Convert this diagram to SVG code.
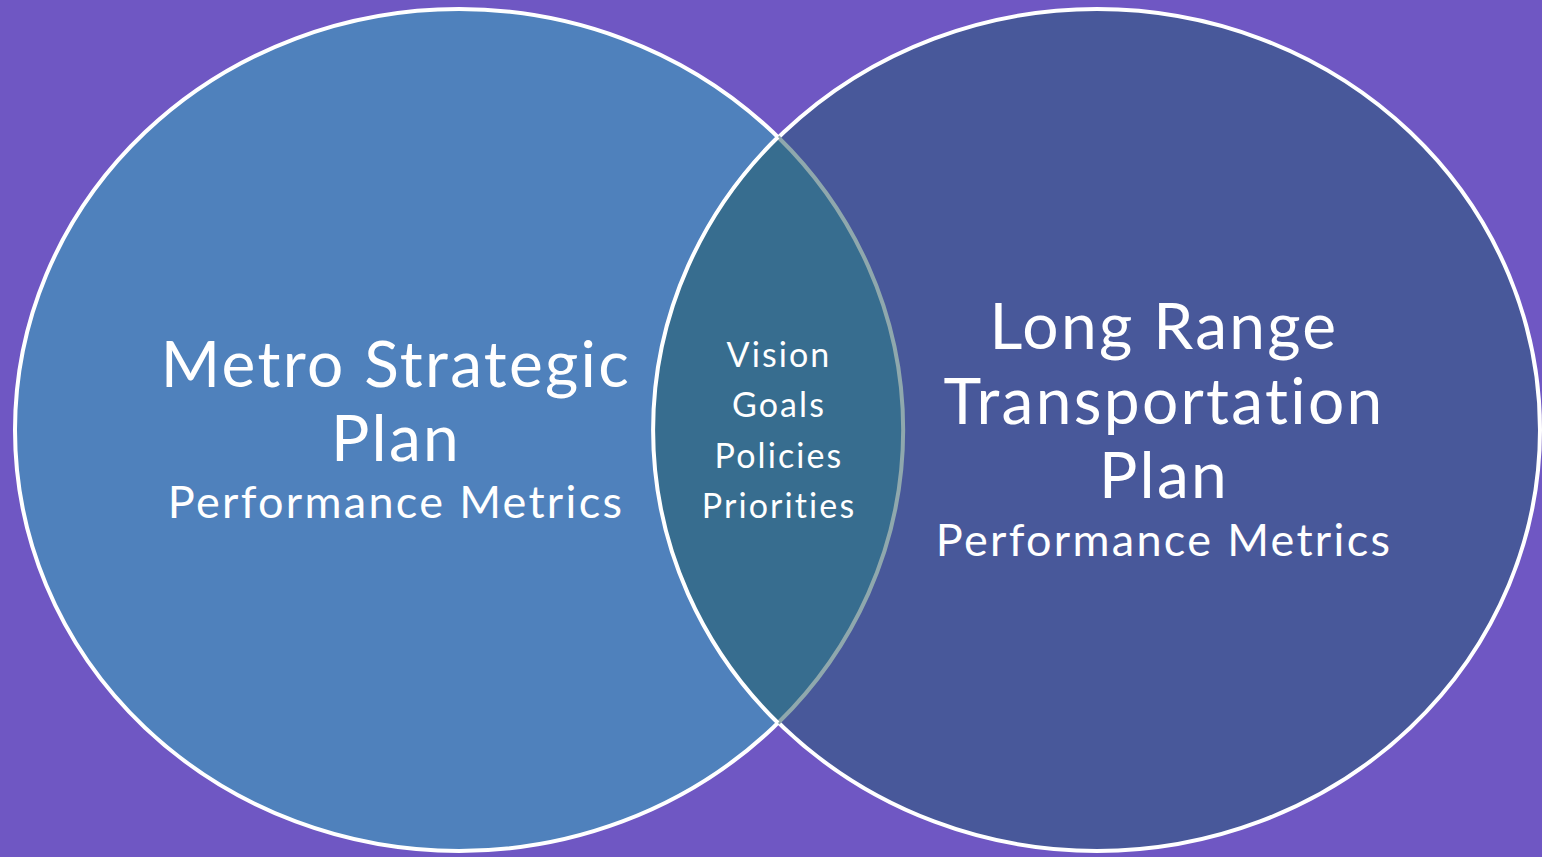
<svg xmlns="http://www.w3.org/2000/svg" width="1542" height="857" viewBox="0 0 1542 857">
<style>
.t{font-family:Lato,"Carlito","Noto Sans",sans-serif;fill:#ffffff;text-anchor:middle}
.big{font-size:64px;letter-spacing:2.3px}
.sub{font-size:45px;letter-spacing:2.3px}
.mid{font-size:34px;letter-spacing:2.1px}
</style>
<rect x="0" y="0" width="1542" height="857" fill="#6f57c3"/>
<g id="left">
<ellipse cx="459" cy="430" rx="444" ry="421" fill="#4f81bc" stroke="#ffffff" stroke-width="4"/>
</g>
<g id="right">
<ellipse cx="1097" cy="430" rx="443" ry="421" fill="#48589a" stroke="#ffffff" stroke-width="4"/>
</g>
<g id="overlap">
<path d="M778 137 A444 421 0 0 1 778 723 A443 421 0 0 1 778 137 Z" fill="#376d8f"/>
<path d="M778 137 A444 421 0 0 1 778 723" fill="none" stroke="#8fa8ad" stroke-width="4"/>
<path d="M778 723 A443 421 0 0 1 778 137" fill="none" stroke="#ffffff" stroke-width="4"/>
</g>
<g id="left-text">
<text class="t big" x="396" y="387">Metro Strategic</text>
<text class="t big" x="396" y="461">Plan</text>
<text class="t sub" x="396" y="518">Performance Metrics</text>
</g>
<g id="right-text">
<text class="t big" x="1164" y="349">Long Range</text>
<text class="t big" x="1164" y="424">Transportation</text>
<text class="t big" x="1164" y="498">Plan</text>
<text class="t sub" x="1164" y="556">Performance Metrics</text>
</g>
<g id="overlap-text">
<text class="t mid" x="779" y="367">Vision</text>
<text class="t mid" x="779" y="417">Goals</text>
<text class="t mid" x="779" y="468">Policies</text>
<text class="t mid" x="779" y="518">Priorities</text>
</g>
</svg>
